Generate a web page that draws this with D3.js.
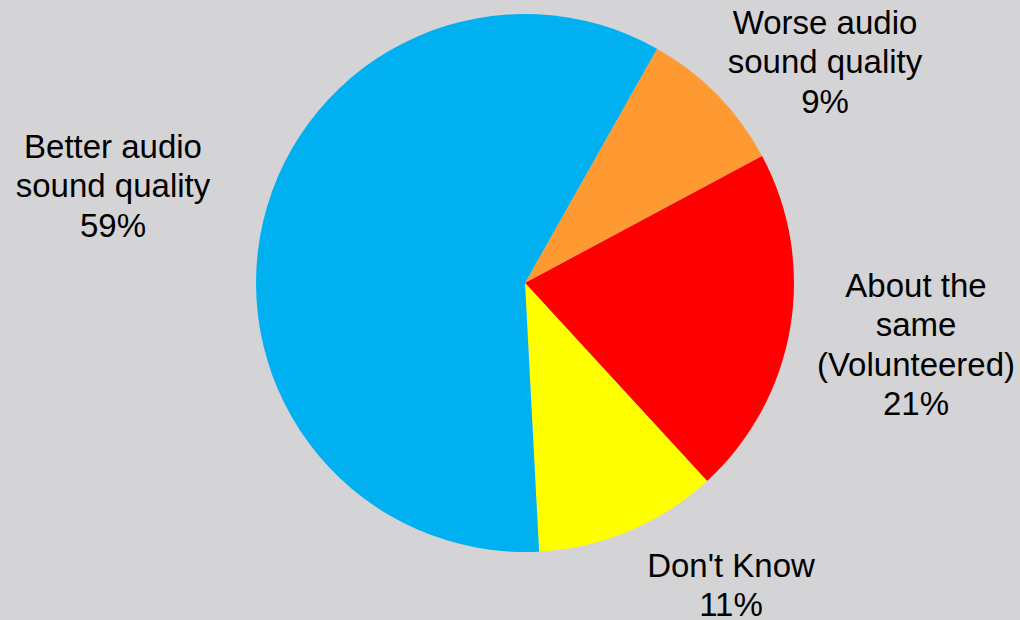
<!DOCTYPE html>
<html>
<head>
<meta charset="utf-8">
<script src="https://cdn.jsdelivr.net/npm/d3@7"></script>
<style>
html,body{margin:0;padding:0;background:#d4d4d6;}
svg{display:block;}
</style>
</head>
<body>
<svg id="chart" width="1020" height="620"></svg>
<script>
const categories = ["Worse audio sound quality", "About the same (Volunteered)", "Don't Know", "Better audio sound quality"];
const values = [9, 21, 11, 59];
const labelLines = [
  ["Worse audio", "sound quality"],
  ["About the", "same", "(Volunteered)"],
  ["Don't Know"],
  ["Better audio", "sound quality"]
];
const colors = ["#ff9a33", "#ff0000", "#ffff00", "#00b0f0"];

// layout (not data)
const W = 1020, H = 620;
const cx = 525, cy = 283, R = 269;
const startDeg = 29.4;
const labelAnchors = [[825, 34], [916, 297], [731, 577], [113, 158]]; // first-line baseline, center x
const lineH = 39.4;

const svg = d3.select("#chart");
svg.append("rect").attr("width", W).attr("height", H).attr("fill", "#d4d4d6");

const pie = d3.pie().sort(null).value(d => d)
  .startAngle(startDeg * Math.PI / 180)
  .endAngle(startDeg * Math.PI / 180 + 2 * Math.PI);
const arc = d3.arc().innerRadius(0).outerRadius(R);

const g = svg.append("g").attr("transform", `translate(${cx},${cy})`);
g.selectAll("path").data(pie(values)).join("path")
  .attr("d", arc)
  .attr("fill", (d, i) => colors[i]);

const total = d3.sum(values);
const fmt = v => Math.round(v / total * 100) + "%";

values.forEach((v, i) => {
  const lines = labelLines[i].concat([fmt(v)]);
  const t = svg.append("text")
    .attr("text-anchor", "middle")
    .attr("font-family", "'Liberation Sans', Arial, sans-serif")
    .attr("font-size", 33)
    .attr("fill", "#000");
  lines.forEach((ln, j) => {
    t.append("tspan")
      .attr("x", labelAnchors[i][0])
      .attr("y", labelAnchors[i][1] + j * lineH)
      .text(ln);
  });
});
</script>
</body>
</html>
